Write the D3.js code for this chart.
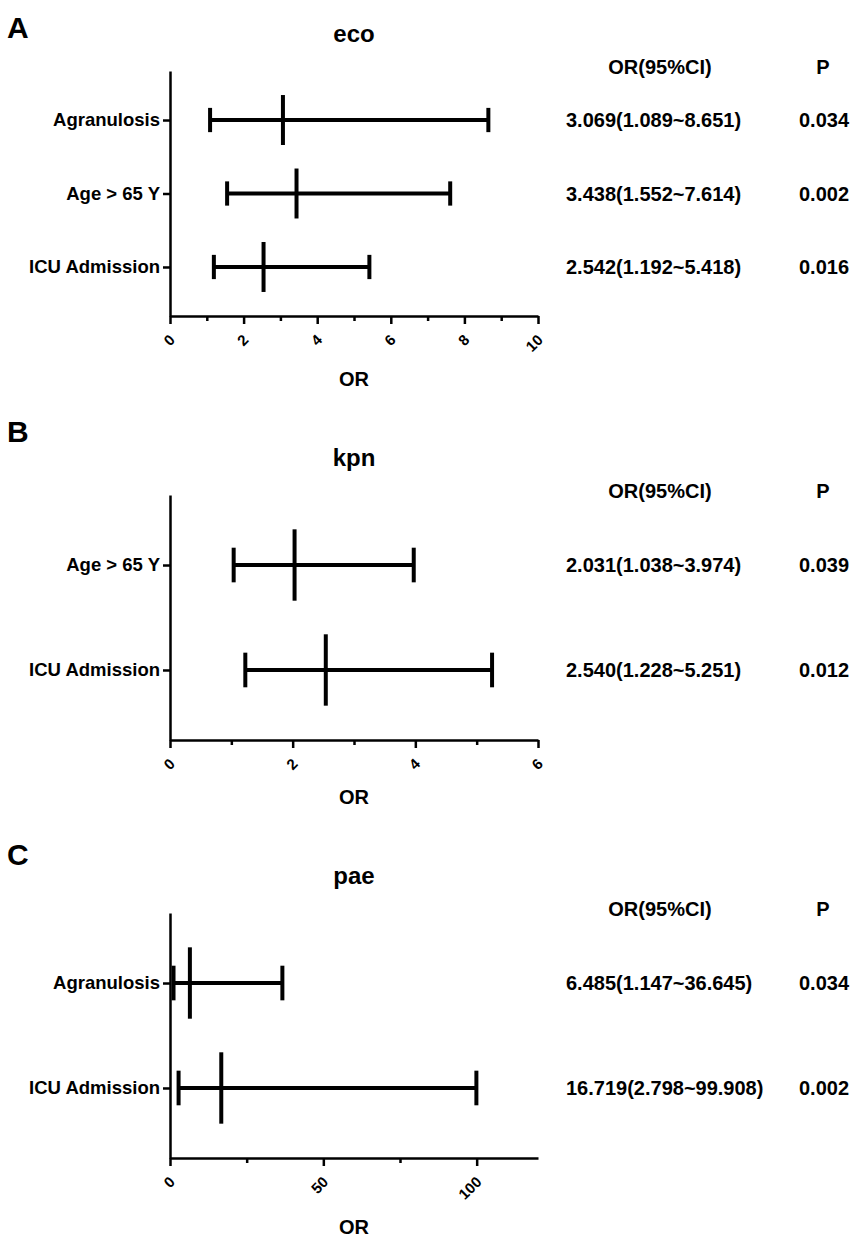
<!DOCTYPE html>
<html>
<head>
<meta charset="utf-8">
<script src="https://cdn.jsdelivr.net/npm/d3@7"></script>
<style>
  body { margin: 0; background: #fff; }
  svg { display: block; font-family: "Liberation Sans", Arial, sans-serif; font-weight: bold; }
</style>
</head>
<body>
<script>
// panel A - eco
const ecoFactors = ["Agranulosis", "Age > 65 Y", "ICU Admission"];
const ecoOR = [3.069, 3.438, 2.542];
const ecoLower = [1.089, 1.552, 1.192];
const ecoUpper = [8.651, 7.614, 5.418];
const ecoP = ["0.034", "0.002", "0.016"];
const ecoMajor = [0, 2, 4, 6, 8, 10];
const ecoMinor = [1, 3, 5, 7, 9];

// panel B - kpn
const kpnFactors = ["Age > 65 Y", "ICU Admission"];
const kpnOR = [2.031, 2.540];
const kpnLower = [1.038, 1.228];
const kpnUpper = [3.974, 5.251];
const kpnP = ["0.039", "0.012"];
const kpnMajor = [0, 2, 4, 6];
const kpnMinor = [1, 3, 5];

// panel C - pae
const paeFactors = ["Agranulosis", "ICU Admission"];
const paeOR = [6.485, 16.719];
const paeLower = [1.147, 2.798];
const paeUpper = [36.645, 99.908];
const paeP = ["0.034", "0.002"];
const paeMajor = [0, 50, 100];
const paeMinor = [25, 75];

const width = 854;
const height = 1237;

const panels = [
  { letter: "A", title: "eco", factors: ecoFactors, or: ecoOR, lo: ecoLower, hi: ecoUpper, p: ecoP,
    xMax: 10, major: ecoMajor, minor: ecoMinor, top: 71, letterY: 38 },
  { letter: "B", title: "kpn", factors: kpnFactors, or: kpnOR, lo: kpnLower, hi: kpnUpper, p: kpnP,
    xMax: 6, major: kpnMajor, minor: kpnMinor, top: 495, letterY: 442 },
  { letter: "C", title: "pae", factors: paeFactors, or: paeOR, lo: paeLower, hi: paeUpper, p: paeP,
    xMax: 120, major: paeMajor, minor: paeMinor, top: 913, letterY: 865 }
];

const plotLeft = 170, plotRight = 538, plotH = 245;
const ciX = 566, ciHeadX = 660, pX = 799, pHeadX = 823;

const svg = d3.select("body").append("svg")
  .attr("width", width)
  .attr("height", height)
  .attr("viewBox", [0, 0, width, height]);

svg.append("rect").attr("width", width).attr("height", height).attr("fill", "#fff");

const fmt = v => v.toFixed(3);

panels.forEach(pn => {
  const g = svg.append("g");
  const bottom = pn.top + plotH;

  const x = d3.scaleLinear().domain([0, pn.xMax]).range([plotLeft, plotRight]);
  const y = d3.scalePoint().domain(pn.factors).range([pn.top, bottom]).padding(0.667);
  const step = y.step();

  // panel letter + title
  g.append("text")
    .attr("x", 7).attr("y", pn.letterY)
    .attr("font-size", 30)
    .text(pn.letter);

  g.append("text")
    .attr("x", (plotLeft + plotRight) / 2).attr("y", pn.top - 29)
    .attr("text-anchor", "middle")
    .attr("font-size", 24)
    .text(pn.title);

  // x axis, major ticks with labels then the short minor ones
  const xAxis = g.append("g")
    .attr("transform", `translate(0,${bottom})`)
    .call(d3.axisBottom(x).tickValues(pn.major).tickSize(8).tickSizeOuter(0).tickFormat(d3.format("d")));
  xAxis.select(".domain").attr("stroke-width", 2.5);
  xAxis.selectAll(".tick line").attr("stroke-width", 2.5);
  xAxis.selectAll(".tick text")
    .attr("y", null).attr("dy", null)
    .attr("text-anchor", "end")
    .attr("dominant-baseline", "central")
    .attr("transform", "translate(1.5,21) rotate(-45)")
    .style("font-size", "15px")
    .style("font-family", "'Liberation Sans', Arial, sans-serif")
    .attr("fill", "#000");

  const xMinor = g.append("g")
    .attr("transform", `translate(0,${bottom})`)
    .call(d3.axisBottom(x).tickValues(pn.minor).tickSize(5).tickFormat(""));
  xMinor.select(".domain").remove();
  xMinor.selectAll(".tick line").attr("stroke-width", 2.5);

  // y axis
  const yAxis = g.append("g")
    .attr("transform", `translate(${plotLeft},0)`)
    .call(d3.axisLeft(y).tickSize(7).tickSizeOuter(0).tickPadding(3));
  yAxis.select(".domain").attr("stroke-width", 2.5);
  yAxis.selectAll(".tick line").attr("stroke-width", 2.5);
  yAxis.selectAll(".tick text")
    .style("font-size", "18.5px")
    .style("font-family", "'Liberation Sans', Arial, sans-serif")
    .attr("fill", "#000");

  // OR label under the tick labels
  const tb = xAxis.node().getBBox();
  g.append("text")
    .attr("x", (plotLeft + plotRight) / 2)
    .attr("y", bottom + tb.height + 24)
    .attr("text-anchor", "middle")
    .attr("dominant-baseline", "central")
    .attr("font-size", 20)
    .text("OR");

  // error bars
  const rows = pn.factors.map((f, i) => ({ f, or: pn.or[i], lo: pn.lo[i], hi: pn.hi[i], p: pn.p[i] }));
  const bars = g.append("g")
    .attr("stroke", "#000")
    .attr("stroke-width", 4)
    .selectAll("g")
    .data(rows)
    .join("g");

  bars.append("line")
    .attr("x1", d => x(d.lo)).attr("x2", d => x(d.hi))
    .attr("y1", d => y(d.f)).attr("y2", d => y(d.f));
  bars.append("line")
    .attr("x1", d => x(d.lo)).attr("x2", d => x(d.lo))
    .attr("y1", d => y(d.f) - step * 0.165).attr("y2", d => y(d.f) + step * 0.165);
  bars.append("line")
    .attr("x1", d => x(d.hi)).attr("x2", d => x(d.hi))
    .attr("y1", d => y(d.f) - step * 0.165).attr("y2", d => y(d.f) + step * 0.165);
  bars.append("line")
    .attr("x1", d => x(d.or)).attr("x2", d => x(d.or))
    .attr("y1", d => y(d.f) - step * 0.34).attr("y2", d => y(d.f) + step * 0.34);

  // table on the right
  g.append("text")
    .attr("x", ciHeadX).attr("y", pn.top - 4)
    .attr("text-anchor", "middle").attr("dominant-baseline", "central")
    .attr("font-size", 20)
    .text("OR(95%CI)");
  g.append("text")
    .attr("x", pHeadX).attr("y", pn.top - 4)
    .attr("text-anchor", "middle").attr("dominant-baseline", "central")
    .attr("font-size", 20)
    .text("P");

  g.selectAll(".ci")
    .data(rows)
    .join("text")
    .attr("class", "ci")
    .attr("x", ciX).attr("y", d => y(d.f))
    .attr("dominant-baseline", "central")
    .attr("font-size", 20)
    .text(d => `${fmt(d.or)}(${fmt(d.lo)}~${fmt(d.hi)})`);

  g.selectAll(".pv")
    .data(rows)
    .join("text")
    .attr("class", "pv")
    .attr("x", pX).attr("y", d => y(d.f))
    .attr("dominant-baseline", "central")
    .attr("font-size", 20)
    .text(d => d.p);
});
</script>
</body>
</html>
